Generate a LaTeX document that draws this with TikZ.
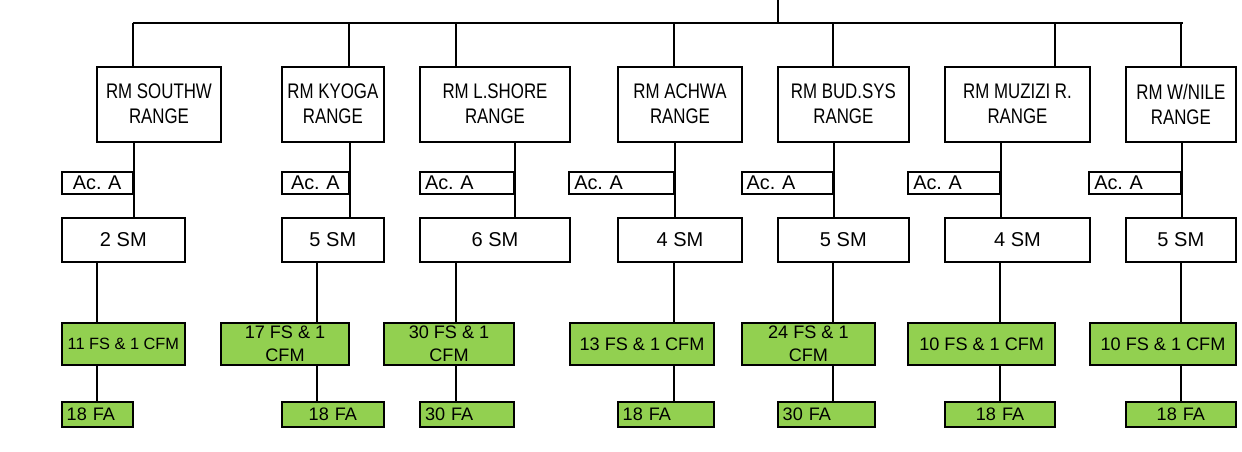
\documentclass[tikz,border=0pt]{standalone}
\usepackage{fontspec}
\setmainfont{Liberation Sans}
\newfontfamily\rangofont[FakeStretch=0.8]{Liberation Sans}
\usepackage{xcolor}
\usepackage{tikz}
\usetikzlibrary{positioning,calc}
\definecolor{verde}{RGB}{146,208,80}
\frenchspacing
\tikzset{
  rango/.style={rectangle, draw=black, line width=1.1pt, fill=white,
                minimum height=1.5cm, inner sep=0pt, align=center,
                font=\rangofont\fontsize{12pt}{14.2pt}\selectfont},
  acta/.style={rectangle, draw=black, line width=1.1pt, fill=white,
               minimum height=0.44cm, inner xsep=0.1cm, inner ysep=0pt,
               text width=#1, font=\fontsize{11.3pt}{12pt}\selectfont},
  sm/.style={rectangle, draw=black, line width=1.1pt, fill=white,
             minimum height=0.874cm, inner sep=0pt,
             font=\fontsize{11.4pt}{13pt}\selectfont},
  fs/.style={rectangle, draw=black, line width=1.1pt, fill=verde,
             minimum height=0.84cm, inner sep=0pt, align=center,
             font=\fontsize{10.3pt}{13pt}\selectfont},
  fa/.style={rectangle, draw=black, line width=1.1pt, fill=verde,
             minimum height=0.506cm, inner xsep=0.1cm, inner ysep=0pt,
             text width=#1, font=\fontsize{10.3pt}{12pt}\selectfont},
  linea/.style={line width=1.1pt}
}
\begin{document}
\begin{tikzpicture}[x=0.02cm, y=-0.02cm]
  \useasboundingbox (0,0) rectangle (1242,451);

  \node[rango, minimum width=2.48cm]  (r1) at (159,104.2)    {RM SOUTHW\\RANGE};
  \node[rango, minimum width=2.046cm] (r2) at (332.85,104.2) {RM KYOGA\\RANGE};
  \node[rango, minimum width=3.0cm]   (r3) at (495,104.2)    {RM L.SHORE\\RANGE};
  \node[rango, minimum width=2.492cm] (r4) at (680,104.2)    {RM ACHWA\\RANGE};
  \node[rango, minimum width=2.626cm] (r5) at (843.35,104.2) {RM BUD.SYS\\RANGE};
  \node[rango, minimum width=2.9cm]   (r6) at (1017.5,104.2) {RM MUZIZI R.\\RANGE};
  \node[rango, minimum width=2.206cm] (r7) at (1180.85,104.2) {RM W/NILE\\RANGE};

  \node[acta=1.22cm, align=center]  (a1) at (97.2,183)    {Ac. A};
  \node[acta=1.146cm, align=center] (a2) at (315.35,183)  {Ac. A};
  \node[acta=1.68cm, align=left]    (a3) at (467,183)     {Ac. A};
  \node[acta=1.894cm, align=left]   (a4) at (621.65,183)  {Ac. A};
  \node[acta=1.626cm, align=left]   (a5) at (787.35,183)  {Ac. A};
  \node[acta=1.634cm, align=left]   (a6) at (954.15,183)  {Ac. A};
  \node[acta=1.634cm, align=left]   (a7) at (1135.15,183) {Ac. A};

  \node[sm, minimum width=2.466cm] (s1) at (123.35,239.85)  {2 SM};
  \node[sm, minimum width=2.046cm] (s2) at (332.85,239.85)  {5 SM};
  \node[sm, minimum width=3.0cm]   (s3) at (495,239.85)     {6 SM};
  \node[sm, minimum width=2.492cm] (s4) at (680,239.85)     {4 SM};
  \node[sm, minimum width=2.626cm] (s5) at (843.35,239.85)  {5 SM};
  \node[sm, minimum width=2.9cm]   (s6) at (1017.5,239.85)  {4 SM};
  \node[sm, minimum width=2.206cm] (s7) at (1180.85,239.85) {5 SM};

  \node[fs, minimum width=2.466cm, font=\fontsize{9.3pt}{12pt}\selectfont] (g1) at (123.35,344) {11 FS \& 1 CFM};
  \node[fs, minimum width=2.56cm]  (g2) at (285,344)    {17 FS \& 1\\CFM};
  \node[fs, minimum width=2.6cm]   (g3) at (449,344)    {30 FS \& 1\\CFM};
  \node[fs, minimum width=2.88cm]  (g4) at (642,344)    {13 FS \& 1 CFM};
  \node[fs, minimum width=2.666cm] (g5) at (808.35,344) {24 FS \& 1\\CFM};
  \node[fs, minimum width=2.934cm] (g6) at (981.65,344) {10 FS \& 1 CFM};
  \node[fs, minimum width=2.92cm]  (g7) at (1163,344)   {10 FS \& 1 CFM};

  \node[fa=1.22cm, align=left]    (f1) at (97.2,414.35)    {18 FA};
  \node[fa=1.846cm, align=center] (f2) at (332.85,414.35)  {18 FA};
  \node[fa=1.68cm, align=left]    (f3) at (467,414.35)     {30 FA};
  \node[fa=1.726cm, align=left]   (f4) at (665.85,414.35)  {18 FA};
  \node[fa=1.746cm, align=left]   (f5) at (826.35,414.35)  {30 FA};
  \node[fa=2.0cm, align=center]   (f6) at (1000,414.35)    {18 FA};
  \node[fa=2.006cm, align=center] (f7) at (1180.85,414.35) {18 FA};

  \coordinate (top) at (778.3,0);
  \coordinate (t1) at (132.7,23);  \coordinate (t2) at (349,23);
  \coordinate (t3) at (456,23);    \coordinate (t4) at (674,23);
  \coordinate (t5) at (833,23);    \coordinate (t6) at (1055,23);
  \coordinate (t7) at (1182.7,23);
  \coordinate (d1) at (96.7,290);  \coordinate (d2) at (316.7,290);
  \coordinate (d3) at (456,290);   \coordinate (d4) at (674,290);
  \coordinate (d5) at (833,290);   \coordinate (d6) at (1000,290);
  \coordinate (d7) at (1181,290);

  \draw[linea] (top)--(top |- t1); \draw[linea] (t1)--(t7);
  \draw[linea] (t1)--(t1 |- r1.north); \draw[linea] (t2)--(t2 |- r2.north);
  \draw[linea] (t3)--(t3 |- r3.north); \draw[linea] (t4)--(t4 |- r4.north);
  \draw[linea] (t5)--(t5 |- r5.north); \draw[linea] (t6)--(t6 |- r6.north);
  \draw[linea] (d7 |- t7)--(d7 |- r7.north);

  \draw[linea] (r1.south -| a1.east)--(s1.north -| a1.east);
  \draw[linea] (r2.south -| a2.east)--(s2.north -| a2.east);
  \draw[linea] (r3.south -| a3.east)--(s3.north -| a3.east);
  \draw[linea] (r4.south -| a4.east)--(s4.north -| a4.east);
  \draw[linea] (r5.south -| a5.east)--(s5.north -| a5.east);
  \draw[linea] (r6.south -| a6.east)--(s6.north -| a6.east);
  \draw[linea] (r7.south -| a7.east)--(s7.north -| a7.east);

  \draw[linea] (s1.south -| d1)--(g1.north -| d1); \draw[linea] (g1.south -| d1)--(f1.north -| d1);
  \draw[linea] (s2.south -| d2)--(g2.north -| d2); \draw[linea] (g2.south -| d2)--(f2.north -| d2);
  \draw[linea] (s3.south -| d3)--(g3.north -| d3); \draw[linea] (g3.south -| d3)--(f3.north -| d3);
  \draw[linea] (s4.south -| d4)--(g4.north -| d4); \draw[linea] (g4.south -| d4)--(f4.north -| d4);
  \draw[linea] (s5.south -| d5)--(g5.north -| d5); \draw[linea] (g5.south -| d5)--(f5.north -| d5);
  \draw[linea] (s6.south -| d6)--(g6.north -| d6); \draw[linea] (g6.south -| d6)--(f6.north -| d6);
  \draw[linea] (s7.south -| d7)--(g7.north -| d7); \draw[linea] (g7.south -| d7)--(f7.north -| d7);
\end{tikzpicture}
\end{document}
